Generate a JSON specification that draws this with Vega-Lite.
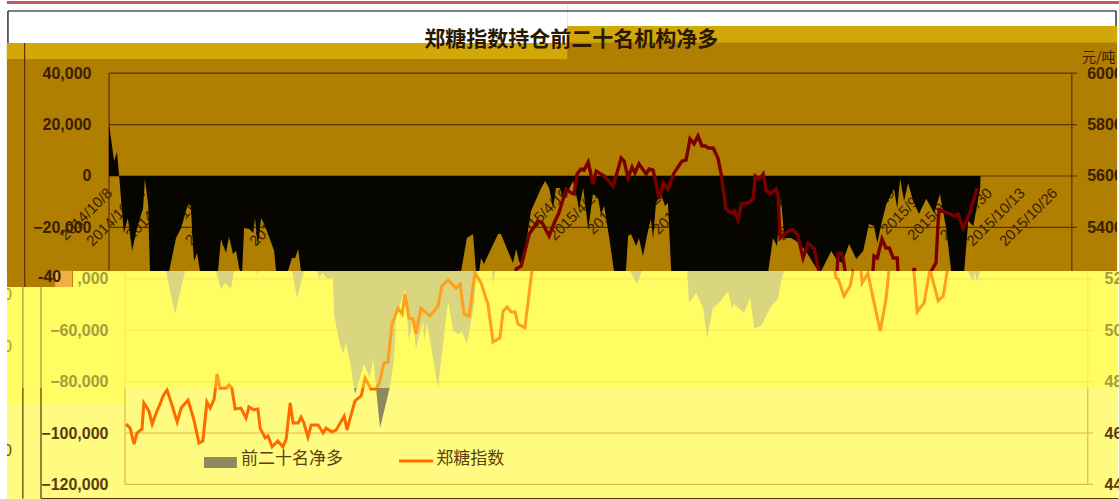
{
"$schema":"https://vega.github.io/schema/vega-lite/v6.json",
"background":"#ffffff","padding":0,"spacing":0,"bounds":"flush",
"resolve":{"scale":{"color":"independent","stroke":"independent"}},
"config":{"view":{"stroke":null},"axis":{"title":null,"grid":false,"domain":false,"ticks":false,"labelFont":"Liberation Sans","labelFontWeight":"bold","labelFontSize":16,"labelOverlap":false,"labelFlush":false}},
"datasets":{
"net":[{"t":0,"net":20200},{"t":1.4,"net":5800},{"t":2.2,"net":9300},{"t":2.8,"net":0},{"t":4.1,"net":-22200},{"t":5.2,"net":-16300},{"t":6.4,"net":-29200},{"t":7.5,"net":-21400},{"t":9.4,"net":-12500},{"t":9.9,"net":-1200},{"t":10.8,"net":-10900},{"t":11.3,"net":-37000},{"t":13.8,"net":-53700},{"t":16.6,"net":-37000},{"t":18.5,"net":-24100},{"t":19.9,"net":-20200},{"t":21.8,"net":-10900},{"t":22.6,"net":-11700},{"t":23.2,"net":-28000},{"t":23.5,"net":-33100},{"t":24.3,"net":-30000},{"t":25.1,"net":-37000},{"t":26.5,"net":-44000},{"t":27.6,"net":-41600},{"t":29.3,"net":-44000},{"t":30.1,"net":-37000},{"t":30.9,"net":-24500},{"t":32.3,"net":-30000},{"t":33.1,"net":-23300},{"t":34.2,"net":-30300},{"t":35.1,"net":-29200},{"t":35.9,"net":-35800},{"t":36.7,"net":-38900},{"t":37.3,"net":-20200},{"t":38.7,"net":-20600},{"t":39.8,"net":-22200},{"t":40.3,"net":-16300},{"t":41.1,"net":-27200},{"t":42,"net":-16300},{"t":43.3,"net":-20200},{"t":45.6,"net":-29200},{"t":46.1,"net":-37000},{"t":47.5,"net":-47500},{"t":49.4,"net":-37000},{"t":50.5,"net":-31900},{"t":51.4,"net":-31900},{"t":52.2,"net":-28400},{"t":53,"net":-37000},{"t":53.6,"net":-39700},{"t":54.4,"net":-37700},{"t":56,"net":-40100},{"t":57.4,"net":-39700},{"t":57.7,"net":-53700},{"t":59.1,"net":-64200},{"t":60.2,"net":-69300},{"t":61,"net":-65000},{"t":61.9,"net":-70800},{"t":62.4,"net":-74700},{"t":63.5,"net":-84800},{"t":66,"net":-73200},{"t":67.6,"net":-78600},{"t":68.5,"net":-71200},{"t":69.3,"net":-82500},{"t":70.4,"net":-98100},{"t":73.2,"net":-81700},{"t":74.3,"net":-70800},{"t":74.8,"net":-55300},{"t":77.3,"net":-44000},{"t":78.4,"net":-64200},{"t":79.5,"net":-55300},{"t":80.3,"net":-67300},{"t":82.3,"net":-56400},{"t":82.6,"net":-64200},{"t":83.4,"net":-57200},{"t":86.4,"net":-82500},{"t":89.2,"net":-48600},{"t":90.6,"net":-60300},{"t":92.2,"net":-61500},{"t":93,"net":-60300},{"t":94.4,"net":-65400},{"t":96.4,"net":-49800},{"t":96.9,"net":-38100},{"t":97.2,"net":-37000},{"t":98.8,"net":-24100},{"t":100.5,"net":-22600},{"t":101.3,"net":-37000},{"t":101.6,"net":-42000},{"t":102.2,"net":-37000},{"t":102.7,"net":-31900},{"t":103.5,"net":-34200},{"t":107.4,"net":-22600},{"t":108.2,"net":-22600},{"t":111.5,"net":-33900},{"t":112.4,"net":-28400},{"t":113.2,"net":-33100},{"t":114,"net":-35800},{"t":116.5,"net":-13600},{"t":119.3,"net":-4700},{"t":120.4,"net":-1900},{"t":121.5,"net":-4700},{"t":122.6,"net":-12500},{"t":123.4,"net":-4700},{"t":124.5,"net":-4700},{"t":125.4,"net":-9700},{"t":128.1,"net":-1900},{"t":128.9,"net":-7000},{"t":129.8,"net":-12500},{"t":130.9,"net":-4700},{"t":132.3,"net":-20600},{"t":133.6,"net":-7000},{"t":135,"net":-8600},{"t":135.8,"net":-14800},{"t":136.7,"net":-11700},{"t":138.1,"net":-24100},{"t":139.4,"net":-37000},{"t":141.4,"net":-42000},{"t":142.7,"net":-37000},{"t":143.3,"net":-23300},{"t":144.1,"net":-22600},{"t":145.5,"net":-27200},{"t":146.3,"net":-24100},{"t":147.4,"net":-31100},{"t":148.8,"net":-21400},{"t":149.6,"net":-16700},{"t":150.2,"net":-24500},{"t":151,"net":-10500},{"t":152.4,"net":-7000},{"t":153.5,"net":-11700},{"t":154.3,"net":-10500},{"t":155.2,"net":-37000},{"t":155.7,"net":-49400},{"t":157.7,"net":-45500},{"t":159.6,"net":-51400},{"t":160.7,"net":-63000},{"t":162.3,"net":-51400},{"t":164,"net":-49400},{"t":166.5,"net":-44800},{"t":167.6,"net":-51700},{"t":168.1,"net":-49800},{"t":170.9,"net":-53300},{"t":172.6,"net":-47500},{"t":173.7,"net":-59200},{"t":175.6,"net":-58400},{"t":178.4,"net":-50600},{"t":180.3,"net":-47900},{"t":181.1,"net":-40900},{"t":182,"net":-37000},{"t":183.3,"net":-24100},{"t":184.4,"net":-27200},{"t":185.5,"net":-8600},{"t":186.4,"net":-24100},{"t":188.3,"net":-24100},{"t":189.7,"net":-25300},{"t":192.4,"net":-29200},{"t":194.4,"net":-33900},{"t":195.8,"net":-37000},{"t":196.6,"net":-37000},{"t":199.4,"net":-29200},{"t":200.7,"net":-32300},{"t":202.4,"net":-33900},{"t":204.3,"net":-26500},{"t":206.3,"net":-32300},{"t":208.2,"net":-29200},{"t":209.8,"net":-18700},{"t":211.2,"net":-19500},{"t":212.1,"net":-26100},{"t":213.2,"net":-18700},{"t":214.6,"net":-10900},{"t":216.7,"net":-5100},{"t":217.6,"net":-12500},{"t":218.4,"net":-1200},{"t":219.5,"net":-9700},{"t":220.6,"net":-2700},{"t":222,"net":-9700},{"t":223.6,"net":-14800},{"t":225.6,"net":-8900},{"t":227.8,"net":-14400},{"t":229.4,"net":-7000},{"t":231.1,"net":-20200},{"t":232.5,"net":-37000},{"t":233,"net":-37700},{"t":234.1,"net":-40900},{"t":234.7,"net":-37700},{"t":235.2,"net":-41200},{"t":236.1,"net":-37000},{"t":237.2,"net":-17500},{"t":238.6,"net":-19500},{"t":240.5,"net":-4700},{"t":240.6,"net":0}],
"price":[{"t":0.3,"price":4635},{"t":1.4,"price":4619},{"t":2.5,"price":4557},{"t":3.3,"price":4600},{"t":4.7,"price":4616},{"t":5.2,"price":4717},{"t":6.6,"price":4686},{"t":7.5,"price":4635},{"t":8.6,"price":4678},{"t":9.7,"price":4713},{"t":10.5,"price":4744},{"t":11.6,"price":4767},{"t":12.7,"price":4721},{"t":14.4,"price":4643},{"t":15.5,"price":4697},{"t":17.4,"price":4728},{"t":19.1,"price":4647},{"t":20.4,"price":4561},{"t":21.5,"price":4569},{"t":22.6,"price":4721},{"t":23.5,"price":4697},{"t":24.6,"price":4732},{"t":25.4,"price":4830},{"t":26.2,"price":4775},{"t":27.9,"price":4775},{"t":28.7,"price":4787},{"t":29.5,"price":4775},{"t":30.4,"price":4693},{"t":32,"price":4697},{"t":33.4,"price":4658},{"t":34.2,"price":4701},{"t":35.6,"price":4690},{"t":36.7,"price":4693},{"t":37.3,"price":4619},{"t":38.7,"price":4581},{"t":39.5,"price":4588},{"t":40.6,"price":4546},{"t":42.2,"price":4569},{"t":43.6,"price":4546},{"t":44.5,"price":4577},{"t":45.6,"price":4717},{"t":46.4,"price":4639},{"t":47.8,"price":4639},{"t":48.6,"price":4662},{"t":49.4,"price":4639},{"t":50.5,"price":4584},{"t":51.4,"price":4631},{"t":53.3,"price":4631},{"t":54.7,"price":4600},{"t":55.5,"price":4619},{"t":57.2,"price":4604},{"t":58.3,"price":4612},{"t":60.5,"price":4666},{"t":61.3,"price":4612},{"t":62.1,"price":4655},{"t":63.5,"price":4725},{"t":65.2,"price":4744},{"t":66.3,"price":4814},{"t":67.9,"price":4771},{"t":69.3,"price":4771},{"t":70.1,"price":4791},{"t":71.5,"price":4872},{"t":72.6,"price":4876},{"t":73.7,"price":5024},{"t":75.4,"price":5086},{"t":76.5,"price":5063},{"t":77.3,"price":5141},{"t":78.4,"price":5047},{"t":79.5,"price":5044},{"t":80.3,"price":4985},{"t":81.7,"price":5086},{"t":84.2,"price":5055},{"t":86.4,"price":5094},{"t":87.5,"price":5172},{"t":89.2,"price":5195},{"t":91.4,"price":5164},{"t":92.5,"price":5180},{"t":93.6,"price":5063},{"t":95,"price":5055},{"t":96.6,"price":5223},{"t":98.3,"price":5184},{"t":99.7,"price":5121},{"t":100.2,"price":5102},{"t":101.6,"price":4954},{"t":103.5,"price":4970},{"t":104.4,"price":5075},{"t":105.5,"price":5090},{"t":106.6,"price":5071},{"t":107.7,"price":5071},{"t":108.5,"price":5024},{"t":110.4,"price":5009},{"t":112.4,"price":5238},{"t":113.8,"price":5250},{"t":116,"price":5374},{"t":118.4,"price":5425},{"t":119.6,"price":5417},{"t":121.5,"price":5367},{"t":122.9,"price":5417},{"t":124.2,"price":5456},{"t":126.2,"price":5549},{"t":127.6,"price":5534},{"t":128.4,"price":5530},{"t":129.2,"price":5608},{"t":130.3,"price":5627},{"t":131.1,"price":5623},{"t":132.3,"price":5654},{"t":133.6,"price":5569},{"t":134.5,"price":5619},{"t":136.7,"price":5600},{"t":139.2,"price":5561},{"t":141.4,"price":5670},{"t":142.2,"price":5658},{"t":143.3,"price":5592},{"t":144.4,"price":5635},{"t":145.2,"price":5612},{"t":146.3,"price":5647},{"t":148.3,"price":5608},{"t":149.1,"price":5627},{"t":150.2,"price":5623},{"t":151.9,"price":5511},{"t":153,"price":5573},{"t":154.3,"price":5549},{"t":156,"price":5612},{"t":158.2,"price":5658},{"t":159.3,"price":5662},{"t":160.4,"price":5744},{"t":161.5,"price":5725},{"t":162.6,"price":5756},{"t":163.7,"price":5717},{"t":164.6,"price":5717},{"t":165.4,"price":5709},{"t":166.8,"price":5709},{"t":168.1,"price":5670},{"t":169,"price":5608},{"t":170.3,"price":5472},{"t":171.7,"price":5456},{"t":172.6,"price":5464},{"t":173.7,"price":5429},{"t":174.5,"price":5491},{"t":176.4,"price":5495},{"t":177.8,"price":5511},{"t":178.4,"price":5600},{"t":179.5,"price":5588},{"t":180.6,"price":5608},{"t":181.4,"price":5546},{"t":182.5,"price":5530},{"t":184.2,"price":5549},{"t":184.7,"price":5522},{"t":185.3,"price":5359},{"t":187.5,"price":5386},{"t":188.9,"price":5390},{"t":190.2,"price":5367},{"t":191.6,"price":5281},{"t":193,"price":5339},{"t":194.7,"price":5316},{"t":196,"price":5230},{"t":196.3,"price":5203},{"t":196.9,"price":5199},{"t":198.5,"price":5133},{"t":200.2,"price":5172},{"t":201,"price":5230},{"t":201.3,"price":5300},{"t":202.1,"price":5300},{"t":202.7,"price":5277},{"t":203.2,"price":5230},{"t":203.5,"price":5184},{"t":205.1,"price":5223},{"t":206,"price":5160},{"t":208.5,"price":4997},{"t":210.1,"price":5121},{"t":210.9,"price":5230},{"t":211.2,"price":5289},{"t":212.1,"price":5281},{"t":213.4,"price":5355},{"t":214.5,"price":5320},{"t":215.4,"price":5320},{"t":216.5,"price":5281},{"t":217.6,"price":5281},{"t":217.8,"price":5230},{"t":218.7,"price":5071},{"t":220.6,"price":5106},{"t":222.3,"price":5242},{"t":222.5,"price":5223},{"t":224.5,"price":5114},{"t":225.9,"price":5133},{"t":227,"price":5230},{"t":228.3,"price":5262},{"t":228.9,"price":5425},{"t":229.2,"price":5468},{"t":231.6,"price":5456},{"t":233.3,"price":5444},{"t":234.4,"price":5452},{"t":235.8,"price":5398},{"t":237.5,"price":5452},{"t":239.7,"price":5553}],
"blocksTop":[{"a":-29.9,"b":126.5,"c":68100,"d":51750,"k":"white"},{"a":126.5,"b":279.2,"c":68100,"d":58365,"k":"white"},{"a":-29.9,"b":-28.2,"c":68100,"d":-37000,"k":"white"},{"a":278.3,"b":279.2,"c":68100,"d":-37000,"k":"white"},{"a":-28.2,"b":279.2,"c":68100,"d":66925,"k":"red"},{"a":-28.2,"b":126.5,"c":51750,"d":45525,"k":"gold"},{"a":126.5,"b":278.3,"c":58365,"d":51945,"k":"gold"}],
"rulesTop":[{"a":-27.9,"b":278,"c":64200,"d":64200,"k":"border"},{"a":-27.9,"b":-27.9,"c":64200,"d":51750,"k":"border"},{"a":278,"b":278,"c":64200,"d":58365,"k":"border"},{"a":-23.3,"b":-23.3,"c":51750,"d":-37000,"k":"axis"},{"a":0,"b":267.2,"c":40000,"d":40000,"k":"axis"},{"a":0,"b":267.2,"c":20000,"d":20000,"k":"axis"},{"a":0,"b":267.2,"c":0,"d":0,"k":"axis"},{"a":0,"b":267.2,"c":-20000,"d":-20000,"k":"axis"},{"a":0,"b":0,"c":40000,"d":-37000,"k":"axis"},{"a":265.8,"b":265.8,"c":40000,"d":-37000,"k":"axis"}],
"textTop":[{"t":127.6,"v":52900,"label":"郑糖指数持仓前二十名机构净多","k":"title"}],
"unitTop":[{"t":268.6,"v":45900,"label":"元/吨"}],
"blocksMid":[{"a":-34.3,"b":-32.58,"c":-36900,"d":-82500,"k":"white"},{"a":274.2,"b":274.8,"c":-36900,"d":-82500,"k":"white"},{"a":-32.58,"b":-14.36,"c":-36900,"d":-43190,"k":"gold2"},{"a":-19.3,"b":-14.6,"c":-36900,"d":-43190,"k":"patch"}],
"rulesMid":[{"a":0,"b":267.2,"c":-40000,"d":-40000,"k":"grid"},{"a":0,"b":267.2,"c":-60000,"d":-60000,"k":"grid"},{"a":0,"b":267.2,"c":-80000,"d":-80000,"k":"grid"},{"a":0,"b":0,"c":-36965,"d":-82490,"k":"grid"},{"a":265.8,"b":265.8,"c":-36965,"d":-82490,"k":"grid"},{"a":-28.2,"b":-28.2,"c":-43190,"d":-82490,"k":"faint"},{"a":-23.2,"b":-23.2,"c":-43190,"d":-82490,"k":"faint"},{"a":-27.7,"b":-27.7,"c":-36965,"d":-43190,"k":"axis"}],
"fragsMid":[{"t":-31.2,"v":-46300,"label":"0"},{"t":-31.2,"v":-66500,"label":"0"}],
"minusMid":[{"t":-24,"v":-39300,"label":"-40"}],
"blocksLow":[{"a":-34.3,"b":-32.58,"c":-82480,"d":-126100,"k":"white"},{"a":274.2,"b":274.8,"c":-82480,"d":-126100,"k":"white"},{"a":-32.58,"b":0,"c":-82480,"d":-88715,"k":"strong"},{"a":21.8,"b":30.9,"c":-109337,"d":-113617,"k":"swatch"}],
"rulesLow":[{"a":0,"b":267.2,"c":-100000,"d":-100000,"k":"grid2"},{"a":0,"b":267.2,"c":-120000,"d":-120000,"k":"grid2"},{"a":0,"b":0,"c":-82480,"d":-120000,"k":"grid2"},{"a":265.8,"b":265.8,"c":-82480,"d":-120000,"k":"grid2"},{"a":-23.2,"b":-23.2,"c":-82480,"d":-125483,"k":"axis"},{"a":-28.2,"b":-28.2,"c":-82480,"d":-125483,"k":"axis"},{"a":-23.2,"b":274.2,"c":-125483,"d":-125483,"k":"axis"}],
"legendLine":[{"a":75.65,"b":85.04,"v":-110894}],
"legendText":[{"t":32,"v":-110100,"label":"前二十名净多"},{"t":85.9,"v":-110100,"label":"郑糖指数"}],
"fragsLow":[{"t":-31.2,"v":-86400,"label":"0"},{"t":-31.2,"v":-107000,"label":"0"}]
},
"vconcat":[
{"width":1119,"height":270,"view":{"fill":"#B07E00","stroke":null},
"layer":[
{"resolve":{"axis":{"x":"independent","y":"independent"}},"layer":[
{"data":{"name":"blocksTop"},"mark":{"type":"rect"},"encoding":{
"x":{"field":"a","type":"quantitative","scale":{"domain":[-29.82,279.1],"nice":false,"zero":false},"axis":{"values":[0,9,18,27,36,45,54,63,72,81,90,99,108,117,126,135,144,153,162,171,180,189,198,207,216,225,234,243,252,261],"orient":"bottom","offset":-95,"labelAngle":-45,"labelAlign":"right","labelBaseline":"middle","labelPadding":14,"labelOverlap":false,"labelFontSize":15,"labelFontWeight":"normal","labelColor":"#3A1E00","labelExpr":"['2014/10/8','2014/10/21','2014/11/3','2014/11/14','2014/11/27','2014/12/10','2014/12/23','2015/1/7','2015/1/20','2015/2/2','2015/2/11','2015/3/3','2015/3/16','2015/3/27','2015/4/10','2015/4/23','2015/5/8','2015/5/21','2015/6/3','2015/6/17','2015/7/1','2015/7/14','2015/7/27','2015/8/7','2015/8/20','2015/9/2','2015/9/17','2015/9/30','2015/10/13','2015/10/26'][round(datum.value/9)]"}},
"x2":{"field":"b"},
"y":{"field":"c","type":"quantitative","scale":{"domain":[-36965,68093],"nice":false,"zero":false},"axis":{"values":[40000,20000,0,-20000],"orient":"left","offset":-108,"labelPadding":18,"labelOverlap":false,"labelColor":"#3A2000","labelExpr":"format(datum.value,',')"}},
"y2":{"field":"d"},
"color":{"field":"k","type":"nominal","legend":null,"scale":{"domain":["white","red","gold"],"range":["#FFFFFF","#C9555B","#D1A808"]}}}},
{"data":{"name":"rulesTop"},"mark":{"type":"rule","strokeWidth":1.2},"encoding":{
"x":{"field":"a","type":"quantitative","axis":null},"x2":{"field":"b"},
"y":{"field":"c","type":"quantitative","axis":null},"y2":{"field":"d"},
"stroke":{"field":"k","type":"nominal","legend":null,"scale":{"domain":["border","axis"],"range":["#000000","#5A3200"]}}}},
{"data":{"name":"net"},"mark":{"type":"area","color":"#060500","clip":true},"encoding":{
"x":{"field":"t","type":"quantitative","axis":null},
"y":{"field":"net","type":"quantitative","axis":null},"y2":{"datum":0}}},
{"data":{"name":"textTop"},"mark":{"type":"text","font":"Noto Sans CJK SC","fontSize":21,"fontWeight":"bold","color":"#2A1800","align":"center","baseline":"middle"},"encoding":{
"x":{"field":"t","type":"quantitative","axis":null},"y":{"field":"v","type":"quantitative","axis":null},"text":{"field":"label"}}},
{"data":{"name":"unitTop"},"mark":{"type":"text","font":"Noto Sans CJK SC","fontSize":14,"color":"#3A2000","align":"left","baseline":"middle"},"encoding":{
"x":{"field":"t","type":"quantitative","axis":null},"y":{"field":"v","type":"quantitative","axis":null},"text":{"field":"label"}}}
]},
{"data":{"name":"price"},"mark":{"type":"line","color":"#7A0000","strokeWidth":3.4,"clip":true},"encoding":{
"x":{"field":"t","type":"quantitative","axis":null},
"y":{"field":"price","type":"quantitative","scale":{"domain":[5230.35,6280.93],"nice":false,"zero":false},"axis":{"values":[6000,5800,5600,5400],"orient":"right","offset":-48.3,"labelPadding":15,"labelOverlap":false,"labelExpr":"toString(datum.value)","labelColor":"#3A2000"}}}}
],
"resolve":{"scale":{"y":"independent"},"axis":{"x":"independent","y":"independent"}}},
{"width":1119,"height":117,"view":{"fill":"#FFFD62","stroke":null},
"layer":[
{"resolve":{"axis":{"x":"independent","y":"independent"}},"layer":[
{"data":{"name":"fragsMid"},"mark":{"type":"text","font":"Liberation Sans","fontSize":16,"color":"#A89A3A","align":"right","baseline":"middle"},"encoding":{
"x":{"field":"t","type":"quantitative","scale":{"domain":[-34.24,274.7],"nice":false,"zero":false},"axis":null},
"y":{"field":"v","type":"quantitative","scale":{"domain":[-82489,-36965],"nice":false,"zero":false},"axis":{"values":[-40000,-60000,-80000],"orient":"left","offset":-124,"labelPadding":17,"labelOverlap":false,"zindex":1,"labelColor":"#A89A3A","labelExpr":"datum.value==-40000?',000':format(datum.value,',')"}},
"text":{"field":"label"}}},
{"data":{"name":"blocksMid"},"mark":{"type":"rect"},"encoding":{
"x":{"field":"a","type":"quantitative","axis":null},"x2":{"field":"b"},
"y":{"field":"c","type":"quantitative","axis":null},"y2":{"field":"d"},
"color":{"field":"k","type":"nominal","legend":null,"scale":{"domain":["white","gold2","patch"],"range":["#FFFFFF","#B07E00","#F0B040"]}}}},
{"data":{"name":"rulesMid"},"mark":{"type":"rule","strokeWidth":1.2},"encoding":{
"x":{"field":"a","type":"quantitative","axis":null},"x2":{"field":"b"},
"y":{"field":"c","type":"quantitative","axis":null},"y2":{"field":"d"},
"stroke":{"field":"k","type":"nominal","legend":null,"scale":{"domain":["grid","faint","axis"],"range":["#FFE55A","#A89438","#5A3200"]}}}},
{"data":{"name":"net"},"mark":{"type":"area","color":"#DAD680","clip":true},"encoding":{
"x":{"field":"t","type":"quantitative","axis":null},
"y":{"field":"net","type":"quantitative","axis":null},"y2":{"datum":0}}},
{"data":{"name":"minusMid"},"mark":{"type":"text","font":"Liberation Sans","fontSize":16,"fontWeight":"bold","color":"#3A2000","align":"left","baseline":"middle"},"encoding":{
"x":{"field":"t","type":"quantitative","axis":null},"y":{"field":"v","type":"quantitative","axis":null},"text":{"field":"label"}}}
]},
{"data":{"name":"price"},"mark":{"type":"line","color":"#FF9F1A","strokeWidth":3,"clip":true},"encoding":{
"x":{"field":"t","type":"quantitative","axis":null},
"y":{"field":"price","type":"quantitative","scale":{"domain":[4775.11,5230.35],"nice":false,"zero":false},"axis":{"values":[5200,5000,4800],"orient":"right","offset":-32,"labelPadding":16,"labelOverlap":false,"zindex":1,"labelColor":"#A89A3A","labelExpr":"slice(toString(datum.value),0,2)"}}}}
],
"resolve":{"scale":{"y":"independent"},"axis":{"x":"independent","y":"independent"}}},
{"width":1119,"height":112,"view":{"fill":"#FFFA80","stroke":null},
"layer":[
{"resolve":{"axis":{"x":"independent","y":"independent"}},"layer":[
{"data":{"name":"fragsLow"},"mark":{"type":"text","font":"Liberation Sans","fontSize":16,"color":"#6A4A10","align":"right","baseline":"middle"},"encoding":{
"x":{"field":"t","type":"quantitative","scale":{"domain":[-34.24,274.7],"nice":false,"zero":false},"axis":null},
"y":{"field":"v","type":"quantitative","scale":{"domain":[-126068,-82489],"nice":false,"zero":false},"axis":{"values":[-100000,-120000],"orient":"left","offset":-124,"labelPadding":17,"labelOverlap":false,"zindex":1,"labelExpr":"format(datum.value,',')","labelColor":"#5A3A10"}},
"text":{"field":"label"}}},
{"data":{"name":"blocksLow"},"mark":{"type":"rect"},"encoding":{
"x":{"field":"a","type":"quantitative","axis":null},"x2":{"field":"b"},
"y":{"field":"c","type":"quantitative","axis":null},"y2":{"field":"d"},
"color":{"field":"k","type":"nominal","legend":null,"scale":{"domain":["white","strong","swatch"],"range":["#FFFFFF","#FFFD62","#8E8A5E"]}}}},
{"data":{"name":"rulesLow"},"mark":{"type":"rule","strokeWidth":1.2},"encoding":{
"x":{"field":"a","type":"quantitative","axis":null},"x2":{"field":"b"},
"y":{"field":"c","type":"quantitative","axis":null},"y2":{"field":"d"},
"stroke":{"field":"k","type":"nominal","legend":null,"scale":{"domain":["grid2","axis"],"range":["#E0B84C","#5A3200"]}}}},
{"data":{"name":"net"},"mark":{"type":"area","color":"#8E8A5E","clip":true},"encoding":{
"x":{"field":"t","type":"quantitative","axis":null},
"y":{"field":"net","type":"quantitative","axis":null},"y2":{"datum":0}}},
{"data":{"name":"legendLine"},"mark":{"type":"rule","strokeWidth":3,"color":"#FF7000"},"encoding":{
"x":{"field":"a","type":"quantitative","axis":null},"x2":{"field":"b"},"y":{"field":"v","type":"quantitative","axis":null}}},
{"data":{"name":"legendText"},"mark":{"type":"text","font":"Noto Sans CJK SC","fontSize":17,"color":"#5A4010","align":"left","baseline":"middle"},"encoding":{
"x":{"field":"t","type":"quantitative","axis":null},"y":{"field":"v","type":"quantitative","axis":null},"text":{"field":"label"}}}
]},
{"data":{"name":"price"},"mark":{"type":"line","color":"#FF6A00","strokeWidth":3,"clip":true},"encoding":{
"x":{"field":"t","type":"quantitative","axis":null},
"y":{"field":"price","type":"quantitative","scale":{"domain":[4339.32,4775.11],"nice":false,"zero":false},"axis":{"values":[4600,4400],"orient":"right","offset":-32,"labelPadding":16,"labelOverlap":false,"zindex":1,"labelColor":"#5A3A10","labelExpr":"slice(toString(datum.value),0,2)"}}}}
],
"resolve":{"scale":{"y":"independent"},"axis":{"x":"independent","y":"independent"}}}
]
}
